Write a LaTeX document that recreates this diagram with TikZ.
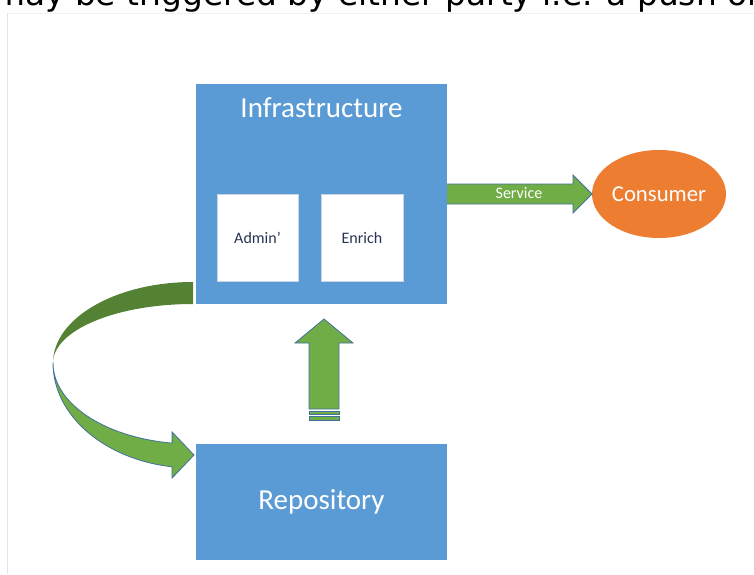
\documentclass[tikz,border=0pt]{standalone}
\usepackage{fontspec}
\setmainfont{Carlito}
\newfontfamily\verd{DejaVu Sans}
\usetikzlibrary{shapes.geometric}
\definecolor{boxblue}{HTML}{5B9BD5}
\definecolor{agreen}{HTML}{70AD47}
\definecolor{dgreen}{HTML}{548235}
\definecolor{aorange}{HTML}{ED7D31}
\definecolor{edgeblue}{HTML}{41719C}
\definecolor{navytext}{HTML}{283454}
\definecolor{framegray}{HTML}{E2E4E8}
\definecolor{frametop}{HTML}{EEF1F5}
\definecolor{innerborder}{HTML}{C9D6E6}
\tikzset{
  bluebox/.style={fill=boxblue, draw=none, inner sep=0pt},
  whitebox/.style={fill=white, draw=innerborder, line width=0.6pt, inner sep=0pt,
    minimum width=81pt, minimum height=87pt, text=navytext, font=\fontsize{16}{19}\selectfont},
  bigtext/.style={text=white, font=\fontsize{29}{34}\selectfont, inner sep=0pt},
  blockarrow/.style={fill=agreen, draw=edgeblue, line width=0.8pt, line join=miter},
}
\begin{document}
\begin{tikzpicture}[x=1pt,y=1pt]
\useasboundingbox (0,0) rectangle (754,-574);
\clip (0,0) rectangle (754,-574);

% cut-off sentence at the top
\node[anchor=base west, inner sep=0pt, font=\verd\fontsize{32.8}{38}\selectfont] (topline) at (-7,-5) {may be triggered by either party i.e. a push or};

% faint frame
\draw[frametop, line width=0.8pt] (7,-13) -- (760,-13);
\draw[framegray, line width=0.8pt] (7,-574) -- (7,-13);

% boxes
\node[bluebox, minimum width=251pt, minimum height=220pt] (infra) at (321.5,-194) {};
\node[bigtext] (infralabel) at (321.5,-108) {Infrastructure};
\node[whitebox] (admin) at (257.5,-237.5) {Admin’};
\node[whitebox, minimum width=82pt] (enrich) at (362,-237.5) {Enrich};
\node[bluebox, minimum width=251pt, minimum height=116pt] (repo) at (321.5,-502) {};
\node[bigtext] (repolabel) at (321.5,-502) {Repository};

% consumer
\node[ellipse, fill=aorange, draw=none, minimum width=134pt, minimum height=88pt, inner sep=0pt,
      text=white, font=\fontsize{22.7}{27}\selectfont] (cons) at (659,-194) {Consumer};

% service arrow
\coordinate (s0) at (447,-194);
\coordinate (s1) at (592,-194);
\draw[blockarrow] (447,-184) -- (573,-184) -- (573,-175) -- (s1) -- (573,-213) -- (573,-204) -- (447,-204);
\node[text=white, font=\fontsize{16}{19}\selectfont, inner sep=0pt] (servlabel) at (519,-193) {Service};

% up arrow (repository -> infrastructure)
\draw[blockarrow] (309,-409) -- (309,-343) -- (295,-343) -- (324,-319) -- (353,-343) -- (339,-343) -- (339,-409) -- cycle;
\draw[blockarrow, line width=0.6pt] (309,-411) rectangle (339,-414.5);
\draw[blockarrow, line width=0.6pt] (309,-416.5) rectangle (339,-420);

% curved arrow (infrastructure -> repository)
\fill[dgreen] (193,-282) arc[start angle=90, end angle=180, x radius=140, y radius=81]
   arc[start angle=180, end angle=90, x radius=140, y radius=59] -- cycle;
\draw[blockarrow] (53,-363) arc[start angle=180, end angle=261.4, x radius=140, y radius=105]
   -- (172.1,-478) -- (194,-455) -- (172.1,-432) -- (172.1,-443.1)
   arc[start angle=261.4, end angle=180, x radius=140, y radius=81] -- cycle;
\end{tikzpicture}
\end{document}
